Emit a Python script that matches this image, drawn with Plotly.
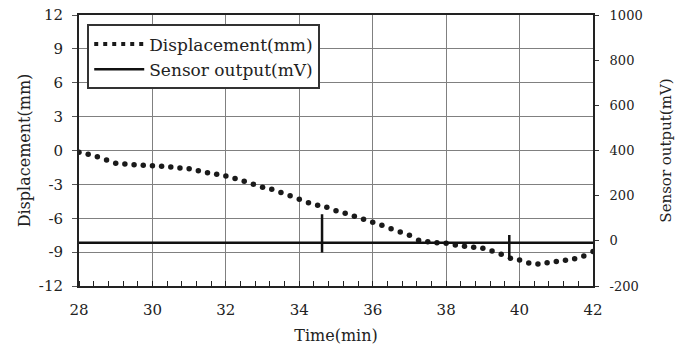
import plotly.graph_objects as go

# Displacement (mm), sampled every 0.25 min from 28 to 42
time_disp = [28 + 0.25 * k for k in range(57)]
displacement = [-0.15, -0.34, -0.55, -0.84, -1.13, -1.20, -1.26, -1.31, -1.35, -1.40,
                -1.46, -1.55, -1.62, -1.80, -1.97, -2.11, -2.26, -2.49, -2.72, -2.99,
                -3.26, -3.44, -3.71, -4.00, -4.32, -4.62, -4.84, -5.03, -5.33, -5.56,
                -5.83, -6.09, -6.36, -6.62, -6.93, -7.22, -7.51, -7.95, -8.08, -8.17,
                -8.22, -8.37, -8.49, -8.57, -8.66, -8.90, -9.19, -9.55, -9.70, -9.96,
                -10.05, -9.94, -9.83, -9.73, -9.58, -9.34, -8.95]

# Sensor output (mV): flat baseline with two short spikes
time_sensor = [28, 34.62, 34.62, 34.62, 34.62, 39.72, 39.72, 39.72, 39.72, 42]
sensor = [-8, -8, 118, -52, -8, -8, 26, -80, -8, -8]

x_ticks = [28, 30, 32, 34, 36, 38, 40, 42]
y_ticks = [-12, -9, -6, -3, 0, 3, 6, 9, 12]
y2_ticks = [-200, 0, 200, 400, 600, 800, 1000]

FONT = "DejaVu Serif"
INK = "#222222"

fig = go.Figure()

# legend-only sample for the dotted displacement series
fig.add_trace(go.Scatter(x=[None], y=[None], mode="lines", name="Displacement(mm)",
                         line=dict(color="#1a1a1a", width=4, dash="4px,5px"),
                         showlegend=True))
fig.add_trace(go.Scatter(x=time_disp, y=displacement, mode="markers",
                         name="Displacement(mm)", showlegend=False,
                         marker=dict(color="#1a1a1a", size=5.5)))
fig.add_trace(go.Scatter(x=time_sensor, y=sensor, mode="lines", yaxis="y2",
                         name="Sensor output(mV)",
                         line=dict(color="#111111", width=2.5)))

fig.update_layout(
    width=683, height=347,
    margin=dict(l=79, r=90, t=15, b=61),
    paper_bgcolor="white", plot_bgcolor="white",
    font=dict(family=FONT, color=INK, size=15),
    showlegend=True,
    legend=dict(x=0.016, y=0.965, xanchor="left", yanchor="top",
                bgcolor="white", bordercolor="#333333", borderwidth=2,
                font=dict(family=FONT, size=17, color=INK),
                itemwidth=50, tracegroupgap=0),
    xaxis=dict(range=[28, 42], tickvals=x_ticks, ticktext=[str(v) for v in x_ticks],
               showgrid=True, gridcolor="#808080", gridwidth=1,
               showline=True, linecolor="#222222", linewidth=2, mirror=True,
               ticks="", ticklabelstandoff=9, zeroline=False, automargin=False,
               minor=dict(tick0=28, dtick=0.4, ticks="inside", ticklen=5,
                          tickcolor="#222222", tickwidth=1, showgrid=False),
               title=dict(text="Time(min)", font=dict(size=16), standoff=12)),
    yaxis=dict(range=[-12, 12], tickvals=y_ticks,
               ticktext=[("-" + str(-v)) if v < 0 else str(v) for v in y_ticks],
               showgrid=True, gridcolor="#808080", gridwidth=1,
               showline=True, linecolor="#222222", linewidth=2,
               ticks="outside", ticklen=5, tickcolor="#555555",
               ticklabelstandoff=6, zeroline=False, automargin=False,
               title=dict(text="Displacement(mm)", font=dict(size=16), standoff=4)),
    yaxis2=dict(range=[-200, 1000], tickvals=y2_ticks,
                ticktext=[("-" + str(-v)) if v < 0 else str(v) for v in y2_ticks],
                overlaying="y", side="right", showgrid=False,
                showline=True, linecolor="#222222", linewidth=2,
                ticks="outside", ticklen=4, tickcolor="#333333",
                ticklabelstandoff=8, zeroline=False, automargin=False,
                tickfont=dict(size=13),
                title=dict(text="Sensor output(mV)", font=dict(size=15), standoff=19)),
)

fig.write_html("out.html")
